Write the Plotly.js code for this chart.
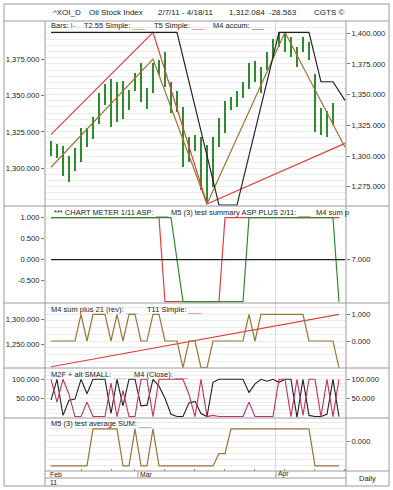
<!DOCTYPE html>
<html><head><meta charset="utf-8">
<script src="https://cdn.plot.ly/plotly-3.0.1.min.js"></script>
<style>html,body{margin:0;padding:0;background:#fff}#chart{width:393px;height:490px}</style>
</head><body><div id="chart"></div>
<script>
// ---- data ----
const days = ['2011-02-07','2011-02-08','2011-02-09','2011-02-10','2011-02-11','2011-02-14','2011-02-15','2011-02-16','2011-02-17','2011-02-18',
'2011-02-22','2011-02-23','2011-02-24','2011-02-25','2011-02-28','2011-03-01','2011-03-02','2011-03-03','2011-03-04','2011-03-07',
'2011-03-08','2011-03-09','2011-03-10','2011-03-11','2011-03-14','2011-03-15','2011-03-16','2011-03-17','2011-03-18','2011-03-21',
'2011-03-22','2011-03-23','2011-03-24','2011-03-25','2011-03-28','2011-03-29','2011-03-30','2011-03-31','2011-04-01','2011-04-04',
'2011-04-05','2011-04-06','2011-04-07','2011-04-08','2011-04-11','2011-04-12','2011-04-13','2011-04-14','2011-04-15','2011-04-18'];
const monthNames = ['Jan','Feb','Mar','Apr','May','Jun','Jul','Aug','Sep','Oct','Nov','Dec'];

// Panel 1: price bars (high/low per trading day)
const barHigh = [1319.0,1316.7,1315.3,1308.5,1313.8,1327.5,1327.9,1335.5,1351.6,1358.0,1361.7,1359.6,1360.1,1353.9,1365.4,1372.2,1355.0,1372.2,1374.5,1379.8,1359.2,1353.4,1342.4,1321.3,1322.9,1321.3,1316.0,1321.3,1334.4,1346.5,1349.3,1353.4,1359.2,1372.2,1374.0,1369.5,1380.2,1389.0,1393.6,1393.6,1390.1,1383.3,1390.1,1387.1,1364.9,1341.3,1339.6,1344.7];
const barLow  = [1308.5,1306.9,1294.7,1290.8,1298.3,1304.5,1314.4,1320.0,1330.5,1343.6,1328.2,1331.7,1333.9,1340.1,1353.4,1345.6,1340.6,1352.0,1364.2,1355.7,1337.8,1338.9,1301.1,1304.5,1312.1,1285.1,1277.0,1287.3,1314.9,1324.1,1340.1,1342.0,1348.2,1354.4,1359.2,1351.6,1367.6,1375.7,1383.7,1379.8,1376.8,1369.9,1379.8,1374.5,1325.2,1322.9,1321.7,1329.8];
// T2.55 Simple (pivot day index / value)
const t255Day = [0,17,26,39,49];
const t255Val = [1300.7,1375.2,1275.4,1393.6,1314.5];
// T5 Simple
const t5Day = [0,17,26,49];
const t5Val = [1317.7,1400.8,1260.9,1310.3];
// M4 accum
const m4accDay = [0,21,28,31,38,43,45,47,49];
const m4accVal = [1400.8,1400.8,1260.1,1260.1,1400.8,1400.8,1360.5,1360.5,1345.3];

// Panel 2
const meterDay = [0,20,22,32,33,47,48];
const meterVal = [1,1,-1,-1,1,1,-1];
const m5sumDay = [0,18,19,28,29,48];
const m5sumVal = [1,1,-1,-1,1,1];
const m4sumDay = [0,49];
const m4sumVal = [7,7];

// Panel 3
const m4plusDay = [0,4,5,6,7,9,10,11,12,13,14,15,16,17,18,19,21,22,23,24,25,26,27,32,33,34,35,42,43,47,48];
const m4plusVal = [0,0,1,0,1,1,0,1,0,1,1,0,0,1,1,0,0,-1,0,0,-1,-1,0,0,1,0,1,1,0,0,-1];
const t11Day = [0,48];
const t11Val = [1204,1310];

// Panel 4 (one value per day, 0..48)
const m2fVal = [45,100,5,45,48,100,62,100,100,100,10,100,30,100,100,30,32,100,82,50,8,2,2,38,42,10,2,92,100,100,100,100,100,65,88,100,95,100,92,100,100,0,100,5,2,2,8,100,2];
const m4closeVal = [100,40,100,60,2,2,40,2,2,2,90,2,70,2,2,100,100,2,100,100,100,100,100,60,2,100,2,5,2,2,2,2,2,40,2,2,2,2,100,100,2,100,5,100,100,2,100,2,100];

// Panel 5
const m5avgDay = [0,6,7,11,12,13,14,15,16,17,18,27,28,29,30,43,44,48];
const m5avgVal = [-2,-2,1,1,-2,-2,1,-2,-2,1,-2,-2,-1,-1,1,1,-2,-2];

// ---- derived ----
const idx = days.map((d,i)=>i);
const monthBounds = [], monthLabels = [], quarterBounds = [], weekBounds = [];
days.forEach((d,i)=>{
  const m = +d.slice(5,7);
  if (i===0 || m !== +days[i-1].slice(5,7)) {
    monthBounds.push(i-0.5); monthLabels.push(monthNames[m-1]);
    if (i>0 && (m-1)%3===0) quarterBounds.push(i-0.5);
  }
  if (i>0) {
    const a = new Date(days[i-1]+'T00:00:00Z').getUTCDay(), b = new Date(d+'T00:00:00Z').getUTCDay();
    if (b < a) weekBounds.push(i);
  }
});

// ---- geometry helpers (pixel -> paper) ----
const L=45, R=346, T=21, B=471;
const W=393, H=490;
const px = x => (x-L)/(R-L);
const py = y => (B-y)/(B-T);

const FONT = 'Liberation Sans, Arial, Helvetica, sans-serif';
const ink = '#222';
const frame = '#9a9a9a';
const gridc = '#ececec';
const GREEN = '#2e8b2e', RED = '#dd4040', BROWN = '#9c7434', BLACK = '#222', PINK = '#c2325f';
const tf = {family: FONT, size: 7.6, color: ink};
function fmt(v){ const s=Math.abs(v).toFixed(3); const p=s.split('.'); p[0]=p[0].replace(/\B(?=(\d{3})+(?!\d))/g, ','); return (v<0?'-':'')+p.join('.'); }

function yax(dom, range, side, vals, extra){
  const o = {domain: dom, range: range, side: side, anchor: 'x', tickvals: vals, ticktext: vals.map(fmt),
    ticks: 'outside', ticklen: 3, tickcolor: '#777', tickfont: tf, showgrid: false, zeroline: false, showline: false, fixedrange: true};
  return Object.assign(o, extra||{});
}
const d1=[py(206),1], d2=[py(303),py(206)], d3=[py(368),py(303)], d4=[py(418),py(368)], d5=[0,py(418)];

const traces = [
  {type:'bar', x: idx.slice(0,barHigh.length), base: barLow, y: barHigh.map((h,i)=>h-barLow[i]), width: 0.3,
   marker:{color: GREEN, line:{width:0}}, xaxis:'x', yaxis:'y', hoverinfo:'skip'},
  {type:'scatter', mode:'lines', x:t255Day, y:t255Val, line:{color:BROWN, width:1.2}, xaxis:'x', yaxis:'y'},
  {type:'scatter', mode:'lines', x:t5Day, y:t5Val, line:{color:RED, width:1.2}, xaxis:'x', yaxis:'y2'},
  {type:'scatter', mode:'lines', x:m4accDay, y:m4accVal, line:{color:BLACK, width:1.2}, xaxis:'x', yaxis:'y2'},

  {type:'scatter', mode:'lines', x:m4sumDay, y:m4sumVal, line:{color:BLACK, width:1.2}, xaxis:'x', yaxis:'y4'},
  {type:'scatter', mode:'lines', x:m5sumDay, y:m5sumVal, line:{color:RED, width:1.2}, xaxis:'x', yaxis:'y3'},
  {type:'scatter', mode:'lines', x:meterDay, y:meterVal, line:{color:GREEN, width:1.2}, xaxis:'x', yaxis:'y3'},

  {type:'scatter', mode:'lines', x:t11Day, y:t11Val, line:{color:RED, width:1.2}, xaxis:'x', yaxis:'y5'},
  {type:'scatter', mode:'lines', x:m4plusDay, y:m4plusVal, line:{color:BROWN, width:1.2}, xaxis:'x', yaxis:'y6'},

  {type:'scatter', mode:'lines', x:idx.slice(0,m2fVal.length), y:m2fVal, line:{color:BLACK, width:1.1}, xaxis:'x', yaxis:'y7'},
  {type:'scatter', mode:'lines', x:idx.slice(0,m4closeVal.length), y:m4closeVal, line:{color:PINK, width:1.1}, xaxis:'x', yaxis:'y8'},

  {type:'scatter', mode:'lines', x:m5avgDay, y:m5avgVal, line:{color:BROWN, width:1.2}, xaxis:'x', yaxis:'y9'}
];

const shapes = [];
function hline(y, x0, x1){ shapes.push({type:'line', xref:'paper', yref:'paper', x0:px(x0), x1:px(x1), y0:py(y), y1:py(y), line:{color:frame, width:1}}); }
function vline(x, y0, y1){ shapes.push({type:'line', xref:'paper', yref:'paper', x0:px(x), x1:px(x), y0:py(y0), y1:py(y1), line:{color:frame, width:1}}); }
shapes.push({type:'rect', xref:'paper', yref:'paper', x0:px(4), x1:px(389), y0:py(4), y1:py(486), line:{color:frame, width:1}});
hline(21,4,389); hline(206,4,389); hline(303,4,389); hline(368,4,389); hline(418,4,389);
hline(471,45,389); hline(478,45,346);
vline(45,21,486); vline(346,21,486);
monthBounds.slice(1).forEach(b=>shapes.push({type:'line', xref:'x', yref:'paper', x0:b, x1:b, y0:py(471), y1:py(478), line:{color:frame, width:1}}));

const annotations = [];
function txt(x, y, t, size, anchor){ annotations.push({xref:'paper', yref:'paper', x:px(x), y:py(y), text:t, showarrow:false,
  xanchor:anchor||'left', yanchor:'middle', font:{family:FONT, size:size||7.5, color:ink}, borderpad:0}); }
const u = c => '<span style="color:'+c+'">___</span>';
// header
txt(52,12.7,'^XOI_D',8); txt(88,12.7,'Oil Stock Index',8); txt(157,12.7,'2/7/11 - 4/18/11',8);
txt(228,12.7,'1,312.084',8); txt(268,12.7,'-28.563',8); txt(313,12.7,'CGTS ©',8);
// panel legends
txt(50,26,'Bars: <span style="color:'+GREEN+'">I-</span>');
txt(83,26,'T2.55 Simple: '+u(BROWN)); txt(153,26,'T5 Simple: '+u(RED)); txt(212,26,'M4 accum: '+u('#555'));
txt(53,212.3,'*** CHART METER 1/11 ASP: '+u('#777')); txt(170,212.3,'M5 (3) test summary ASP PLUS 2/11: '+u(RED)); txt(315,212.3,'M4 sum p');
txt(50,309,'M4 sum plus 21 (rev): '+u('#aaa')); txt(146,309,'T11 Simple: '+u(RED));
txt(50,374.3,'M2F + alt SMALL: '+u('#aaa')); txt(133,374.3,'M4 (Close): '+u(PINK));
txt(50,423,'M5 (3) test average SUM: '+u('#777'));
// date axis
monthBounds.forEach((b,i)=>annotations.push({xref:'x', yref:'paper', x:b, y:py(474.3), text:monthLabels[i], showarrow:false,
  xanchor:'left', yanchor:'middle', xshift:1, font:{family:FONT, size:6.8, color:ink}, borderpad:0}));
annotations.push({xref:'x', yref:'paper', x:monthBounds[0], y:py(482), text:days[0].slice(2,4), showarrow:false,
  xanchor:'left', yanchor:'middle', xshift:1, font:{family:FONT, size:6.8, color:ink}, borderpad:0});
txt(367.5,478.5,'Daily',7.5,'center');

const layout = {
  width: W, height: H, margin:{l:L, r:W-R, t:T, b:H-B, pad:0},
  paper_bgcolor:'#fff', plot_bgcolor:'rgba(0,0,0,0)', showlegend:false, hovermode:false,
  xaxis:{domain:[0,1], range:[-1,49.17], anchor:'y9', tickvals: quarterBounds, showticklabels:false, ticks:'',
    showgrid:true, gridcolor:'#dcdcdc', gridwidth:1, zeroline:false, showline:false, fixedrange:true,
    minor:{tickvals: weekBounds, ticks:'inside', ticklen:2, tickcolor:'#888', showgrid:false}},
  yaxis: yax(d1,[1274,1401.4],'left',[1300,1325,1350,1375]),
  yaxis2: yax(d1,[1259.3,1410],'right',[1275,1300,1325,1350,1375,1400],{overlaying:'y', showgrid:true, gridcolor:gridc, minor:{dtick:5, tick0:1275, showgrid:true, gridcolor:gridc}}),
  yaxis3: yax(d2,[-1.031,1.279],'left',[-0.5,0,0.5,1]),
  yaxis4: yax(d2,[5.969,8.279],'right',[7],{overlaying:'y3'}),
  yaxis5: yax(d3,[1201.4,1333],'left',[1250,1300]),
  yaxis6: yax(d3,[-1.011,1.423],'right',[0,1],{overlaying:'y5', showgrid:true, gridcolor:gridc, minor:{dtick:0.25, showgrid:true, gridcolor:gridc}}),
  yaxis7: yax(d4,[-1.8,129.7],'left',[50,100]),
  yaxis8: yax(d4,[-1.8,129.7],'right',[50,100],{overlaying:'y7', showgrid:true, gridcolor:gridc, minor:{dtick:10, showgrid:true, gridcolor:gridc}}),
  yaxis9: yax(d5,[-2.41,1.89],'right',[0],{showgrid:true, gridcolor:gridc, minor:{dtick:0.5, showgrid:true, gridcolor:gridc}}),
  shapes: shapes, annotations: annotations, bargap:0
};
Plotly.newPlot('chart', traces, layout, {staticPlot:true, displayModeBar:false});
</script></body></html>
